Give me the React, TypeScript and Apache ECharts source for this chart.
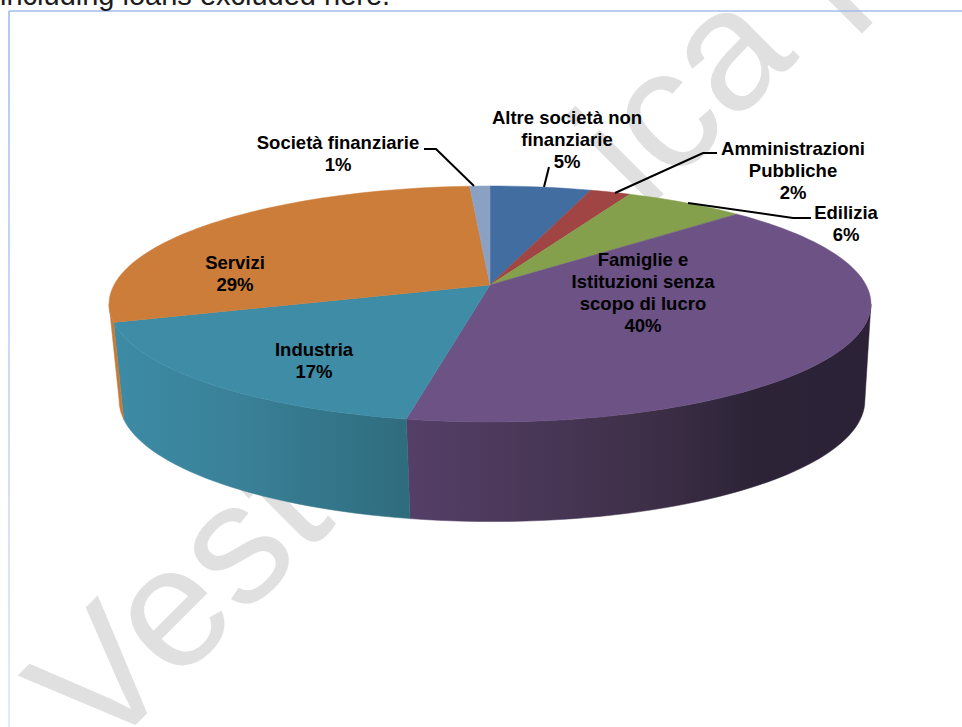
import React, { useEffect, useRef } from "react";
import * as echarts from "echarts";

// Sector shares in percent, clockwise from the top of the disc
const sectors = [
  "Altre società non\nfinanziarie",
  "Amministrazioni\nPubbliche",
  "Edilizia",
  "Famiglie e\nIstituzioni senza\nscopo di lucro",
  "Industria",
  "Servizi",
  "Società finanziarie",
];
const shares = [5, 2, 6, 40, 17, 29, 1];
const topColors = ["#426da0", "#a04543", "#84a04d", "#6c5285", "#3e8ca6", "#cc7d3a", "#8aa1c4"];
const wallStops: [number, string][][] = [
  [[0, "#2f4d72"], [1, "#2f4d72"]],
  [[0, "#733230"], [1, "#733230"]],
  [[0, "#5f7337"], [1, "#5f7337"]],
  [[0, "#553f68"], [0.5, "#3f3049"], [0.75, "#2c2337"], [1, "#2b2237"]],
  [[0, "#3d8ba5"], [0.4, "#3a8199"], [1, "#2f6c7d"]],
  [[0, "#c47a38"], [1, "#c47a38"]],
  [[0, "#637491"], [1, "#637491"]],
];
const labelCentres: [number, number][] = [
  [567, 117], [793, 148], [846, 212], [643, 259], [314, 349], [235, 262], [338, 142],
];
const leaderLines: [number, number][][] = [
  [[549, 167], [544, 187]],
  [[717, 153], [703, 153], [615, 193]],
  [[811, 218], [793, 218], [688, 203]],
  [[424, 149], [436, 149], [474, 186]],
];

// Perspective disc: the rim is an ellipse, the hub sits behind its centre
const TILT = 0.161;
const HUB_SHIFT = -19;
const top = { cx: 490, cy: 304, a: 376, b: 118 };
const bottom = { cx: 492, cy: 400, a: 368, b: 121 };
const TOTAL = shares.reduce((s, v) => s + v, 0);

// Only this stretch of the rim faces the viewer (percent along the circle)
const frontAngle = (Math.acos(-TILT) / (2 * Math.PI)) * TOTAL;
const FRONT_FROM = frontAngle;
const FRONT_TO = TOTAL - frontAngle;

type Rim = typeof top;
const project = (rim: Rim, pct: number): number[] => {
  const t = (pct / TOTAL) * 2 * Math.PI;
  const u = Math.sin(t);
  const v = -Math.cos(t);
  const d = 1 - TILT * v;
  return [rim.cx + (rim.a * u) / d, rim.cy + (rim.b * v + HUB_SHIFT) / d];
};
const arc = (rim: Rim, from: number, to: number): number[][] => {
  const steps = Math.max(2, Math.ceil((to - from) * 2));
  return Array.from({ length: steps + 1 }, (_, i) => project(rim, from + ((to - from) * i) / steps));
};
const startOf = (index: number) => shares.slice(0, index).reduce((s, v) => s + v, 0);

const renderTop = (params: any, api: any) => {
  const i = params.dataIndex;
  const from = startOf(i);
  const hub = [top.cx, top.cy + HUB_SHIFT];
  return {
    type: "polygon",
    shape: { points: [hub, ...arc(top, from, from + api.value(0))] },
    style: { fill: topColors[i], stroke: topColors[i], lineWidth: 0.5 },
  };
};

const renderWall = (params: any, api: any) => {
  const i = params.dataIndex;
  const from = Math.max(startOf(i), FRONT_FROM);
  const to = Math.min(startOf(i) + api.value(0), FRONT_TO);
  if (to <= from) return null;
  const fill = {
    type: "linear",
    x: 0,
    y: 0,
    x2: 1,
    y2: 0,
    colorStops: wallStops[i].map(([offset, color]) => ({ offset, color })),
  };
  return {
    type: "polygon",
    shape: { points: [...arc(top, from, to), ...arc(bottom, from, to).reverse()] },
    style: { fill, stroke: fill, lineWidth: 0.5 },
  };
};

const SANS = '"Liberation Sans", Arial, sans-serif';

const backdropText = (text: string, x: number, y: number) => ({
  type: "text",
  x,
  y,
  rotation: Math.PI / 4,
  z: -1,
  silent: true,
  style: {
    text,
    fill: "#e0e0e0",
    font: `172px ${SANS}`,
    textAlign: "left",
    textVerticalAlign: "bottom",
  },
});

const buildOption = () => ({
  animation: false,
  backgroundColor: "#ffffff",
  series: [
    {
      type: "custom",
      coordinateSystem: "none",
      renderItem: renderWall,
      data: shares,
      silent: true,
      z: 2,
    },
    {
      type: "custom",
      coordinateSystem: "none",
      renderItem: renderTop,
      data: shares,
      silent: true,
      z: 3,
    },
  ],
  graphic: [
    backdropText("Vest", 119, 778),
    backdropText("ica", 663, 231),
    backdropText("l", 872, 60),
    {
      type: "line",
      z: 1,
      silent: true,
      shape: { x1: 9, y1: 11, x2: 962, y2: 11 },
      style: { stroke: "#a0bcec", lineWidth: 1.5 },
    },
    {
      type: "polygon",
      z: 1,
      silent: true,
      shape: { points: [[8.2, 11], [9.8, 11], [9.8, 727], [8.2, 727]] },
      style: {
        fill: {
          type: "linear",
          x: 0,
          y: 0,
          x2: 0,
          y2: 1,
          colorStops: [
            { offset: 0, color: "#a0bcec" },
            { offset: 1, color: "#dfe6f8" },
          ],
        },
      },
    },
    {
      type: "text",
      x: 0,
      y: -19.5,
      z: 5,
      silent: true,
      style: {
        text: "including loans excluded here.",
        fill: "#1c1c1c",
        font: `29px ${SANS}`,
        textAlign: "left",
      },
    },
    ...leaderLines.map((points) => ({
      type: "polyline",
      z: 10,
      silent: true,
      shape: { points },
      style: { stroke: "#000000", lineWidth: 2, fill: "none" },
    })),
    ...sectors.map((name, i) => ({
      type: "text",
      x: labelCentres[i][0],
      y: labelCentres[i][1] - 11,
      z: 11,
      silent: true,
      style: {
        text: `${name}\n${shares[i]}%`,
        fill: "#000000",
        font: `bold 18.5px ${SANS}`,
        lineHeight: 22,
        textAlign: "center",
        textVerticalAlign: "top",
      },
    })),
  ],
});

export default function App() {
  const ref = useRef<HTMLDivElement>(null);
  useEffect(() => {
    const chart = echarts.init(ref.current!, undefined, { renderer: "svg" });
    chart.setOption(buildOption() as any);
    return () => chart.dispose();
  }, []);
  return <div ref={ref} style={{ position: "absolute", left: 0, top: 0, width: 962, height: 727 }} />;
}
